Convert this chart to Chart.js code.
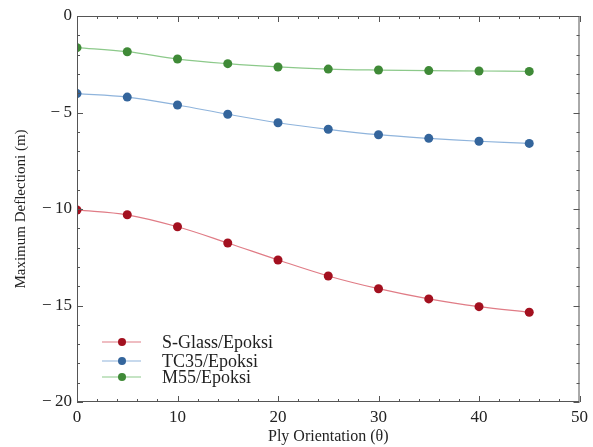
<!DOCTYPE html>
<html lang="en">
<head>
  <meta charset="UTF-8" />
  <title>Maximum Deflection vs Ply Orientation</title>
  <script src="https://cdn.jsdelivr.net/npm/chart.js"></script>
  <style>
    html, body { margin: 0; padding: 0; background: #fff; }
    #wrap { width: 593px; height: 447px; position: relative; }
  </style>
</head>
<body>
  <div id="wrap"><canvas id="chart"></canvas></div>

<script>
  // ply angles (deg)
  const angles = [0, 5, 10, 15, 20, 25, 30, 35, 40, 45];

  const sGlass = [-10.05, -10.3, -10.92, -11.76, -12.64, -13.47, -14.13, -14.66, -15.06, -15.35];
  const tc35   = [-4.02, -4.2, -4.61, -5.09, -5.53, -5.87, -6.15, -6.34, -6.49, -6.6];
  const m55    = [-1.64, -1.85, -2.23, -2.47, -2.64, -2.75, -2.8, -2.83, -2.85, -2.87];

  const seriesNames = ['S-Glass/Epoksi', 'TC35/Epoksi', 'M55/Epoksi'];
  const yTicks = [0, -5, -10, -15, -20];
  const xTicks = [0, 10, 20, 30, 40, 50];

  const lineColors = ['#e07c86', '#8fb4dc', '#8cc98a'];
  const dotColors = ['#a3101f', '#34659c', '#3f8a37'];

  const SERIF = '"Liberation Serif", "DejaVu Serif", serif';

  function toPts(ys) {
    return angles.map((a, i) => ({ x: a, y: ys[i] }));
  }

  // frame, inward major/minor ticks on all four sides, and the legend
  const framePlugin = {
    id: 'frame',
    afterDraw(chart) {
      const { ctx, chartArea: a, scales } = chart;
      const xs = scales.x, ys = scales.y;
      ctx.save();
      ctx.strokeStyle = '#555';
      ctx.lineWidth = 1;
      ctx.strokeRect(a.left + 0.5, a.top + 0.5, a.right - a.left - 1, a.bottom - a.top - 1);

      ctx.beginPath();
      for (let v = 0; v <= 50; v += 2) {
        const px = Math.round(xs.getPixelForValue(v)) + 0.5;
        const len = v % 10 === 0 ? 6 : 3;
        ctx.moveTo(px, a.bottom); ctx.lineTo(px, a.bottom - len);
        ctx.moveTo(px, a.top); ctx.lineTo(px, a.top + len);
      }
      for (let v = 0; v >= -20; v -= 1) {
        const py = Math.round(ys.getPixelForValue(v)) + 0.5;
        const len = v % 5 === 0 ? 6 : 3;
        ctx.moveTo(a.left, py); ctx.lineTo(a.left + len, py);
        ctx.moveTo(a.right, py); ctx.lineTo(a.right - len, py);
      }
      ctx.stroke();

      // legend inside plot, lower left
      ctx.font = '18px ' + SERIF;
      ctx.textBaseline = 'middle';
      const rows = [342, 361, 377];
      seriesNames.forEach((name, i) => {
        const y = rows[i];
        ctx.strokeStyle = lineColors[i];
        ctx.lineWidth = 1.2;
        ctx.beginPath();
        ctx.moveTo(102, y); ctx.lineTo(141, y);
        ctx.stroke();
        ctx.fillStyle = dotColors[i];
        ctx.beginPath();
        ctx.arc(122, y, 4, 0, Math.PI * 2);
        ctx.fill();
        ctx.fillStyle = '#222';
        ctx.fillText(name, 162, y + 1);
      });
      ctx.restore();
    }
  };

  const datasets = [sGlass, tc35, m55].map((vals, i) => ({
    label: seriesNames[i],
    data: toPts(vals),
    borderColor: lineColors[i],
    borderWidth: 1.2,
    pointRadius: 4.5,
    pointBackgroundColor: dotColors[i],
    pointBorderColor: dotColors[i],
    pointBorderWidth: 0,
    tension: 0.35,
    fill: false
  }));

  new Chart(document.getElementById('chart'), {
    type: 'line',
    data: { datasets },
    options: {
      responsive: true,
      maintainAspectRatio: false,
      animation: false,
      layout: { padding: { top: 16, right: 13, left: 0, bottom: 0 } },
      plugins: { legend: { display: false }, tooltip: { enabled: false } },
      scales: {
        x: {
          type: 'linear',
          min: 0, max: 50,
          afterFit(s) { s.height = 45; },
          afterBuildTicks(s) { s.ticks = xTicks.map(v => ({ value: v })); },
          grid: { display: false, drawTicks: false },
          border: { display: false },
          ticks: { color: '#222', font: { family: SERIF, size: 17 }, padding: 5, maxRotation: 0 },
          title: { display: true, text: 'Ply Orientation (\u03b8)', color: '#222', font: { family: SERIF, size: 16 }, padding: { top: 0, bottom: 1 } }
        },
        y: {
          type: 'linear',
          min: -20, max: 0,
          afterFit(s) { s.width = 77; },
          afterBuildTicks(s) { s.ticks = yTicks.map(v => ({ value: v })); },
          grid: { display: false, drawTicks: false },
          border: { display: false },
          ticks: {
            color: '#222', font: { family: SERIF, size: 17 }, padding: 5,
            callback: v => String(v).replace('-', '\u2212\u2009')
          },
          title: { display: true, text: 'Maximum Deflectioni (m)', color: '#222', font: { family: SERIF, size: 15 }, padding: { top: 12, bottom: 0 } }
        }
      }
    },
    plugins: [framePlugin]
  });
</script>
</body>
</html>
